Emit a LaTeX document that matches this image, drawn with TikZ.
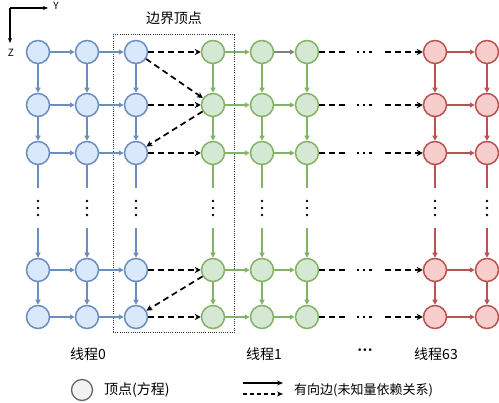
\documentclass[tikz,border=0pt]{standalone}
\usepackage{fontspec}
\newfontfamily\cjk{Noto Sans CJK SC}
\newfontfamily\dejavu{DejaVu Sans}
\usetikzlibrary{arrows.meta}
\definecolor{blueF}{HTML}{DAE8FC}
\definecolor{blueS}{HTML}{6C8EBF}
\definecolor{greenF}{HTML}{D5E8D4}
\definecolor{greenS}{HTML}{82B366}
\definecolor{redF}{HTML}{F8CECC}
\definecolor{redS}{HTML}{B85450}
\definecolor{legF}{HTML}{F2F2F2}
\definecolor{legS}{HTML}{666666}
\begin{document}
\begin{tikzpicture}[x=1pt,y=-1pt,
  vtx/.style={circle, line width=1.5pt, minimum size=23pt, inner sep=0pt},
  vb/.style={vtx, draw=blueS, fill=blueF},
  vg/.style={vtx, draw=greenS, fill=greenF},
  vr/.style={vtx, draw=redS, fill=redF},
  tipc/.style={-{Triangle[length=5pt,width=5pt]}},
  eblue/.style={line width=1.3pt, draw=blueS, tipc, color=blueS},
  egreen/.style={line width=1.3pt, draw=greenS, tipc, color=greenS},
  ered/.style={line width=1.3pt, draw=redS, tipc, color=redS},
  egray/.style={line width=1.5pt, tipc, color=gray},
  dep/.style={line width=1.7pt, dash pattern=on 6pt off 4pt, -{Stealth[length=6pt,width=6pt]}},
  depline/.style={line width=1.7pt, dash pattern=on 6pt off 4pt},
  dotline/.style={line width=2.2pt, dash pattern=on 2.2pt off 4pt},
  vdot/.style={circle, fill=black, inner sep=0pt, minimum size=2.8pt},
  lbl/.style={font=\cjk\fontsize{14}{16}\selectfont, inner sep=0pt},
  small/.style={font=\cjk\fontsize{10}{12}\selectfont, inner sep=0pt},
  bbox/.style={draw=black!80, line width=1pt, dash pattern=on 1pt off 1.2pt, inner sep=0pt}
]
\useasboundingbox (0,0) rectangle (499,403);

% boundary box
\node[bbox, minimum width=121pt, minimum height=298pt] (box) at (173.5,184) {};
\node[lbl] (boxlbl) at (174,18) {边界顶点};

% axes
\coordinate (o) at (10,8);
\coordinate (ay) at (48,8);
\coordinate (az) at (10,43);
\draw[line width=1.1pt, -{Stealth[length=5pt,width=4pt]}] (o) -- (ay);
\draw[line width=1.1pt, -{Stealth[length=5pt,width=4pt]}] (o) -- (az);
\node[small] (ylbl) at (56,6) {Y};
\node[small] (zlbl) at (11,53) {Z};

% vertices
\foreach \r/\y in {1/52,2/105,3/153,4/270,5/317}{
  \foreach \c/\x in {1/38,2/87,3/136}{ \node[vb] (b-\r-\c) at (\x,\y) {}; }
  \foreach \c/\x in {1/213,2/262,3/307}{ \node[vg] (g-\r-\c) at (\x,\y) {}; }
  \foreach \c/\x in {1/435,2/487}{ \node[vr] (r-\r-\c) at (\x,\y) {}; }
}

% vertical edges
\foreach \p/\st/\cols in {b/eblue/{1,2,3}, g/egreen/{1,2,3}, r/ered/{1,2}}{
  \foreach \c in \cols {
    \draw[\st] (\p-1-\c) -- (\p-2-\c);
    \draw[\st] (\p-2-\c) -- (\p-3-\c);
    \path (\p-3-\c) ++(0,35) coordinate (\p-\c-ua);
    \path (\p-4-\c) ++(0,-42) coordinate (\p-\c-da);
    \draw[\st, -] (\p-3-\c) -- (\p-\c-ua);
    \draw[\st] (\p-\c-da) -- (\p-4-\c);
    \draw[\st] (\p-4-\c) -- (\p-5-\c);
    \path (\p-3-\c) ++(0,48) node[vdot] (\p-\c-d1) {};
    \path (\p-3-\c) ++(0,55) node[vdot] (\p-\c-d2) {};
    \path (\p-3-\c) ++(0,62) node[vdot] (\p-\c-d3) {};
  }
}

% horizontal edges
\foreach \r/\y in {1/52,2/105,3/153,4/270,5/317}{
  \draw[eblue] (b-\r-1) -- (b-\r-2);
  \draw[eblue] (b-\r-2) -- (b-\r-3);
  \draw[dep] (b-\r-3) -- (g-\r-1);
  \draw[egreen] (g-\r-1) -- (g-\r-2);
  \draw[ered] (r-\r-1) -- (r-\r-2);
  \coordinate (m-\r-a) at (345,\y);
  \coordinate (m-\r-b) at (357,\y);
  \coordinate (m-\r-c) at (373,\y);
  \coordinate (m-\r-d) at (385,\y);
  \draw[depline] (g-\r-3) -- (m-\r-a);
  \draw[dotline] (m-\r-b) -- (m-\r-c);
  \draw[dep] (m-\r-d) -- (r-\r-1);
}
\draw[egray] (g-1-2) -- (g-1-3);
\foreach \r in {2,3,4,5}{ \draw[egreen] (g-\r-2) -- (g-\r-3); }

% diagonal dependencies
\draw[dep] (b-1-3) -- (g-2-1);
\draw[dep] (g-2-1) -- (b-3-3);
\draw[dep] (g-4-1) -- (b-5-3);

% thread labels
\node[lbl] (t0) at (88,354) {线程0};
\node[lbl] (t1) at (264,354) {线程1};
\node[inner sep=0pt, font=\dejavu\fontsize{9}{10}\selectfont] (tdots) at (365,351) {•••};
\node[lbl] (t63) at (436,354) {线程63};

% legend
\node[circle, draw=legS, fill=legF, line width=1.3pt, minimum size=21pt, inner sep=0pt] (legv) at (82,390) {};
\node[lbl, anchor=west] (legvt) at (104,390) {顶点(方程)};
\coordinate (la1) at (243,383);
\coordinate (la2) at (283,383);
\coordinate (lb1) at (243,394);
\coordinate (lb2) at (283,394);
\draw[line width=1.4pt, -{Stealth[length=6pt,width=5pt]}] (la1) -- (la2);
\draw[line width=1.1pt, dash pattern=on 4pt off 3pt, -{Stealth[length=6pt,width=5pt]}] (lb1) -- (lb2);
\node[font=\cjk\fontsize{13}{15}\selectfont, inner sep=0pt, anchor=west] (legat) at (294,390) {有向边(未知量依赖关系)};
\end{tikzpicture}
\end{document}
